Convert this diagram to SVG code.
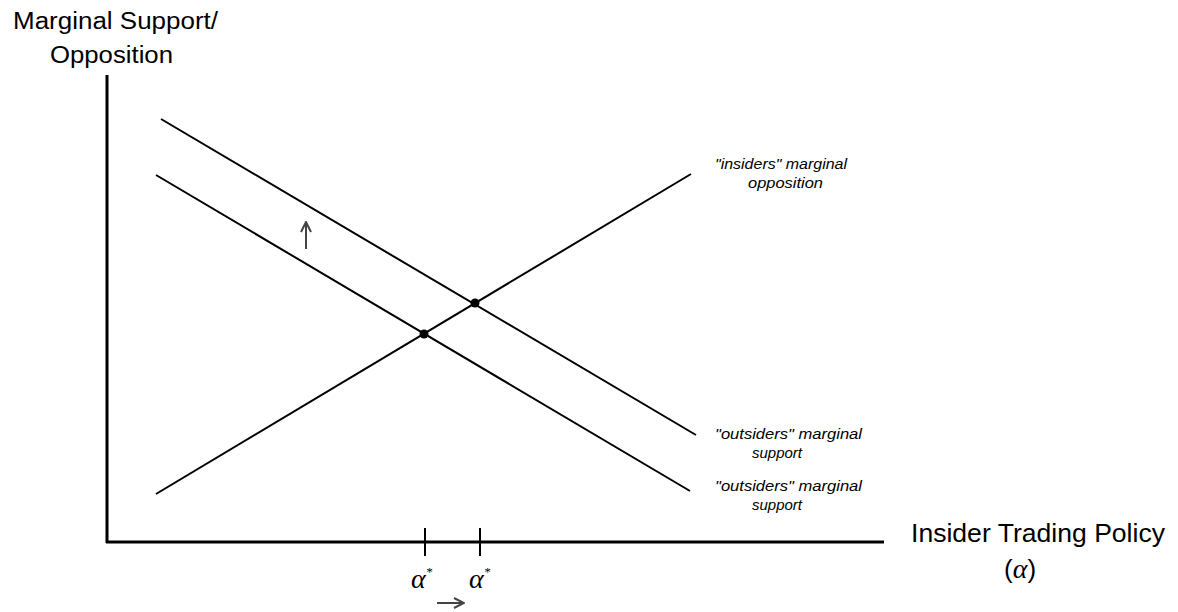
<svg xmlns="http://www.w3.org/2000/svg" width="1178" height="612" viewBox="0 0 1178 612">
<defs>
<style>
.ax{stroke:#000;stroke-width:3;fill:none}
.ln{stroke:#000;stroke-width:2;fill:none}
.lbl{font-family:"Liberation Sans",Arial,sans-serif;font-size:23px;fill:#000}
.big{font-family:"Liberation Sans",Arial,sans-serif;font-size:26px;fill:#000}
.it{font-family:"Liberation Sans",Arial,sans-serif;font-size:14px;font-style:italic;fill:#000}
.gr{font-family:"Liberation Serif","Times New Roman",serif;font-style:italic;fill:#000}
</style>
<marker id="ah" viewBox="0 0 12 12" refX="11" refY="6" markerWidth="12" markerHeight="12" markerUnits="userSpaceOnUse" orient="auto">
<path d="M1,1 L11,6 L1,11" fill="none" stroke="#444" stroke-width="2"/>
</marker>
</defs>
<rect width="1178" height="612" fill="#fff"/>
<g id="axes">
<line class="ax" x1="107" y1="75" x2="107" y2="543"/>
<line class="ax" x1="106" y1="542" x2="884" y2="542"/>
<line class="ln" x1="425" y1="528" x2="425" y2="556"/>
<line class="ln" x1="480" y1="528" x2="480" y2="556"/>
</g>
<g id="connectors">
<line id="demand-new" class="ln" x1="161" y1="119" x2="696" y2="435"/>
<line id="demand-old" class="ln" x1="156" y1="175" x2="690" y2="491"/>
<line id="supply" class="ln" x1="156" y1="494" x2="691" y2="174"/>
<line x1="306" y1="249" x2="306" y2="222" stroke="#444" stroke-width="2" marker-end="url(#ah)"/>
<line x1="437" y1="603" x2="464" y2="603" stroke="#444" stroke-width="2" marker-end="url(#ah)"/>
</g>
<g id="eq1"><circle cx="424" cy="334" r="4.5" fill="#000"/></g>
<g id="eq2"><circle cx="475" cy="303" r="4.5" fill="#000"/></g>
<g id="ylabel">
<text class="lbl" x="13" y="29" textLength="205" lengthAdjust="spacingAndGlyphs">Marginal Support/</text>
<text class="lbl" x="50" y="63" textLength="123" lengthAdjust="spacingAndGlyphs">Opposition</text>
</g>
<g id="xlabel">
<text class="big" x="911" y="542" textLength="254" lengthAdjust="spacingAndGlyphs">Insider Trading Policy</text>
<text class="big" x="1004" y="578">(<tspan class="gr" font-size="28">α</tspan>)</text>
</g>
<g id="insiders-label">
<text class="it" x="715" y="169" textLength="132" lengthAdjust="spacingAndGlyphs">"insiders" marginal</text>
<text class="it" x="748" y="188" textLength="75" lengthAdjust="spacingAndGlyphs">opposition</text>
</g>
<g id="outsiders1-label">
<text class="it" x="715" y="439" textLength="147" lengthAdjust="spacingAndGlyphs">"outsiders" marginal</text>
<text class="it" x="752" y="458" textLength="50" lengthAdjust="spacingAndGlyphs">support</text>
</g>
<g id="outsiders0-label">
<text class="it" x="715" y="491" textLength="147" lengthAdjust="spacingAndGlyphs">"outsiders" marginal</text>
<text class="it" x="752" y="510" textLength="50" lengthAdjust="spacingAndGlyphs">support</text>
</g>
<g id="alpha-labels">
<text class="gr" x="411" y="588" font-size="28">α<tspan font-size="13" dy="-12">*</tspan></text>
<text class="gr" x="469" y="588" font-size="28">α<tspan font-size="13" dy="-12">*</tspan></text>
</g>
</svg>
